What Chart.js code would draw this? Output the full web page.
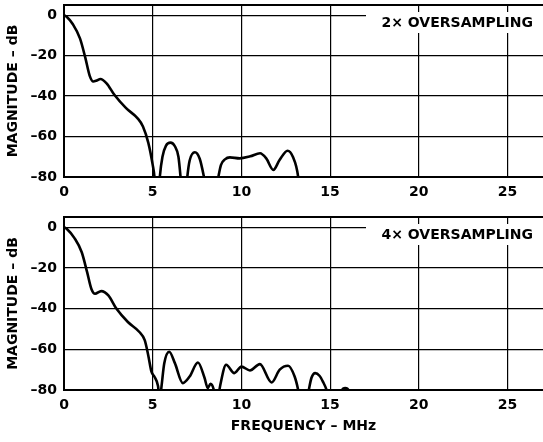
<!DOCTYPE html>
<html>
<head>
<meta charset="utf-8">
<script src="https://cdn.jsdelivr.net/npm/chart.js@4.4.0/dist/chart.umd.min.js"></script>
<style>
  html, body { margin: 0; padding: 0; background: #fff; }
  .wrap { position: absolute; left: 0; width: 543px; }
  #topWrap { top: 0; height: 200px; }
  #botWrap { top: 200px; height: 242px; }
</style>
</head>
<body>
<div class="wrap" id="topWrap"><canvas id="topChart" width="543" height="200"></canvas></div>
<div class="wrap" id="botWrap"><canvas id="botChart" width="543" height="242"></canvas></div>
<script>
// Frequency (MHz) and magnitude (dB)
const freqTop = [0, 0.15, 0.5, 0.9, 1.2, 1.45, 1.65, 1.85, 2.05, 2.4, 2.85, 3.5, 4.15, 4.45, 4.75, 5.0, 5.1, 5.25,
  5.4, 5.55, 5.75, 6.0, 6.25, 6.45, 6.57, 6.75, 6.95, 7.08, 7.38, 7.65, 7.89, 8.3, 8.7, 8.85, 9.07, 9.35, 9.9,
  10.5, 11.05, 11.4, 11.8, 12.15, 12.6, 12.9, 13.2, 13.4];
const magTop = [0, -0.8, -4.5, -11.5, -21, -30, -32.8, -32.3, -31.6, -33.7, -39.5, -46, -51, -55, -63, -74, -80, -100,
  -80, -70, -64.5, -63, -64.8, -70, -80, -100, -80, -72, -67.8, -71, -80, -100, -80, -74, -71.3, -70.3, -70.8,
  -69.8, -68.3, -70.8, -76.5, -71.6, -67, -70, -80, -100];

const freqBottom = [0, 0.15, 0.6, 1.0, 1.3, 1.55, 1.75, 2.1, 2.5, 2.95, 3.6, 4.25, 4.55, 4.75, 4.93, 5.1, 5.3, 5.4,
  5.5, 5.65, 5.93, 6.25, 6.7, 7.08, 7.55, 7.92, 8.1, 8.26, 8.43, 8.6, 8.8, 9.14, 9.6, 10.0, 10.48, 11.04, 11.7,
  12.16, 12.63, 13.0, 13.2, 13.5, 13.8, 13.95, 14.16, 14.4, 14.6, 14.8, 15.2, 15.6, 15.85, 16.1, 16.4];
const magBottom = [0, -0.8, -5.5, -12.3, -22, -30.5, -32.7, -31.4, -33.5, -40, -46.6, -51.5, -55.5, -63, -71, -73.5, -78, -85,
  -78, -67, -61.2, -66.8, -76.6, -73.4, -66.5, -74, -79, -77, -79.5, -88, -78, -67.6, -71.7, -68.5, -70.4, -67.3, -76.3,
  -70, -68.1, -73.4, -80, -95, -80, -74, -71.7, -73, -76, -80, -95, -81, -79, -81, -95];

const xTicks = [0, 5, 10, 15, 20, 25];
const yTicks = [0, -20, -40, -60, -80];

const FONT = '"DejaVu Sans", "Liberation Sans", Arial, sans-serif';

// top frame line + white label box in the upper right corner
const framePlugin = {
  id: 'frame',
  afterDraw(chart, args, opts) {
    const ctx = chart.ctx;
    const a = chart.chartArea;
    ctx.save();
    ctx.fillStyle = '#fff';
    ctx.fillRect(opts.boxLeft, a.top + 7, a.right - opts.boxLeft, 21);
    ctx.fillStyle = '#000';
    ctx.font = 'bold 14px ' + FONT;
    ctx.textAlign = 'right';
    ctx.textBaseline = 'middle';
    ctx.fillText(opts.text, a.right - 10, a.top + 18);
    ctx.strokeStyle = '#000';
    ctx.lineWidth = 2;
    ctx.beginPath();
    ctx.moveTo(a.left - 1, a.top);
    ctx.lineTo(a.right, a.top);
    ctx.stroke();
    ctx.restore();
  }
};

function makeChart(id, freq, mag, label, opt) {
  const points = freq.map((f, i) => ({ x: f, y: mag[i] }));
  return new Chart(document.getElementById(id), {
    type: 'line',
    data: {
      datasets: [{
        data: points,
        borderColor: '#000',
        borderWidth: 2.6,
        pointRadius: 0,
        cubicInterpolationMode: 'monotone',
        clip: 0
      }]
    },
    options: {
      responsive: false,
      animation: false,
      layout: { padding: { top: opt.padTop, left: 0, right: 0, bottom: 0 } },
      plugins: {
        legend: { display: false },
        tooltip: { enabled: false },
        frame: { text: label, boxLeft: 366 }
      },
      scales: {
        x: {
          type: 'linear',
          min: 0,
          max: 27,
          afterBuildTicks: s => { s.ticks = xTicks.map(v => ({ value: v })); },
          afterFit: s => { s.height = opt.xHeight; s.paddingLeft = 0; s.paddingRight = 0; },
          ticks: {
            color: '#000',
            padding: 7,
            maxRotation: 0,
            font: { family: FONT, size: 14, weight: 'bold' }
          },
          grid: { color: '#000', lineWidth: 1.2, drawTicks: false },
          border: { color: '#000', width: 2 },
          title: {
            display: opt.xTitle,
            text: 'FREQUENCY – MHz',
            color: '#000',
            padding: { top: 4, bottom: 7 },
            font: { family: FONT, size: 14, weight: 'bold' }
          }
        },
        y: {
          min: -80,
          max: 5,
          afterBuildTicks: s => { s.ticks = yTicks.map(v => ({ value: v })); },
          afterFit: s => { s.width = 64; s.paddingTop = 0; s.paddingBottom = 0; },
          ticks: {
            color: '#000',
            padding: 7,
            font: { family: FONT, size: 14, weight: 'bold' },
            callback: v => (v < 0 ? '–' + (-v) : '' + v)
          },
          grid: { color: '#000', lineWidth: 1.2, drawTicks: false },
          border: { color: '#000', width: 2 },
          title: {
            display: true,
            text: 'MAGNITUDE – dB',
            color: '#000',
            padding: { top: 5, bottom: 2 },
            font: { family: FONT, size: 14, weight: 'bold' }
          }
        }
      }
    },
    plugins: [framePlugin]
  });
}

makeChart('topChart', freqTop, magTop, '2× OVERSAMPLING', { padTop: 5, xHeight: 23, xTitle: false });
makeChart('botChart', freqBottom, magBottom, '4× OVERSAMPLING', { padTop: 17, xHeight: 52, xTitle: true });
</script>
</body>
</html>
